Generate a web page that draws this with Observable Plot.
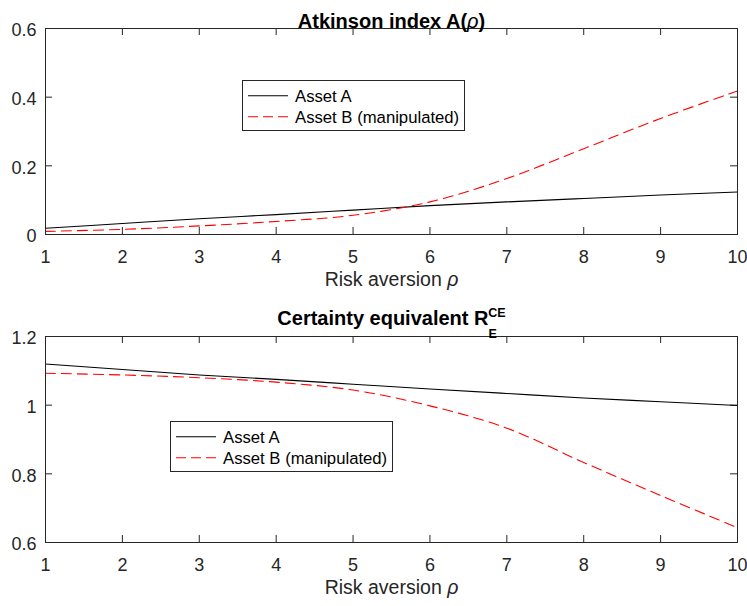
<!DOCTYPE html>
<html>
<head>
<meta charset="utf-8">
<script src="https://cdn.jsdelivr.net/npm/d3@7"></script>
<script src="https://cdn.jsdelivr.net/npm/@observablehq/plot@0.6"></script>
<style>
  html, body { margin: 0; padding: 0; background: white; }
  #wrap { position: relative; width: 747px; height: 606px; background: white; }
  #wrap svg { display: block; }
</style>
</head>
<body>
<div id="wrap"></div>
<script>
// ---- data ----
const rho = [1, 2, 3, 4, 5, 6, 7, 8, 9, 10];
const atkinsonA = [0.018, 0.032, 0.046, 0.058, 0.071, 0.084, 0.095, 0.105, 0.115, 0.124];
const atkinsonB = [0.009, 0.015, 0.025, 0.038, 0.056, 0.095, 0.163, 0.250, 0.338, 0.418];
const certEqA = [1.120, 1.104, 1.088, 1.075, 1.061, 1.047, 1.034, 1.021, 1.010, 0.999];
const certEqB = [1.093, 1.088, 1.080, 1.067, 1.044, 0.998, 0.933, 0.833, 0.737, 0.643];
const seriesNames = ["Asset A", "Asset B (manipulated)"];
const xTicks = [1, 2, 3, 4, 5, 6, 7, 8, 9, 10];
const topYTicks = [0, 0.2, 0.4, 0.6];
const bottomYTicks = [0.6, 0.8, 1, 1.2];
const xLabel = "Risk aversion ρ";
const topTitle = "Atkinson index A(ρ)";
const bottomTitle = "Certainty equivalent R";

const FONT = "'Liberation Sans', Arial, Helvetica, sans-serif";
const AX = "#262626";
const W = 747, ML = 45, MR = 10;

function panel({height, marginTop, marginBottom, yDomain, yTicks, a, b, title, titleDy}) {
  const frameH = height - marginTop - marginBottom;
  const frameW = W - ML - MR;
  const data = rho.map((r, i) => ({rho: r, a: a[i], b: b[i]}));
  return Plot.plot({
    width: W, height, marginTop, marginBottom, marginLeft: ML, marginRight: MR,
    style: {fontFamily: FONT, fontSize: "18px", color: AX, background: "white", overflow: "visible"},
    x: {domain: [1, 10]},
    y: {domain: yDomain},
    marks: [
      Plot.tickX(xTicks, {x: d => d, stroke: AX, insetTop: frameH - 7}),
      Plot.tickX(xTicks, {x: d => d, stroke: AX, insetBottom: frameH - 7}),
      Plot.tickY(yTicks, {y: d => d, stroke: AX, insetLeft: frameW - 7}),
      Plot.tickY(yTicks, {y: d => d, stroke: AX, insetRight: frameW - 7}),
      Plot.axisX({ticks: xTicks, tickSize: 0, tickPadding: 16, label: null, tickFormat: d => String(d), fontSize: 18}),
      Plot.axisY({ticks: yTicks, tickSize: 0, tickPadding: 9, label: null, tickFormat: d => String(d), dy: 2, fontSize: 18}),
      Plot.line(data, {x: "rho", y: "a", stroke: "black", strokeWidth: 1.1, curve: "catmull-rom"}),
      Plot.line(data, {x: "rho", y: "b", stroke: "#ff0000", strokeWidth: 1.1, strokeDasharray: "10,6", curve: "catmull-rom"}),
      Plot.frame({stroke: AX}),
      Plot.text([title], {text: d => d, frameAnchor: "top", dy: titleDy, fontWeight: "bold", fontSize: 20, fill: "black"}),
      Plot.text([xLabel], {text: d => d, frameAnchor: "bottom", dy: 51, fontSize: 19.5, fill: AX})
    ]
  });
}

function italicRho(textNode) {
  const t = d3.select(textNode);
  const s = t.text();
  const parts = s.split("ρ");
  t.text(null);
  parts.forEach((p, i) => {
    if (p) t.append("tspan").text(p);
    if (i < parts.length - 1) t.append("tspan").attr("font-style", "italic").attr("font-weight", "normal").text("ρ");
  });
}

const wrap = d3.select("#wrap");

const topPanel = panel({height: 290, marginTop: 28, marginBottom: 56, yDomain: [0, 0.6], yTicks: topYTicks,
  a: atkinsonA, b: atkinsonB, title: topTitle, titleDy: -14.5});
const bottomPanel = panel({height: 316, marginTop: 46, marginBottom: 64, yDomain: [0.6, 1.2], yTicks: bottomYTicks,
  a: certEqA, b: certEqB, title: bottomTitle, titleDy: -25.5});

wrap.node().appendChild(topPanel);
wrap.node().appendChild(bottomPanel);

// rich text: italic rho, sub/superscript
for (const svg of [topPanel, bottomPanel]) {
  d3.select(svg).selectAll("text")
    .filter(function() { return this.textContent === xLabel || this.textContent === topTitle; })
    .each(function() { italicRho(this); });
}
d3.select(bottomPanel).selectAll("text")
  .filter(function() { return this.textContent === bottomTitle; })
  .each(function() {
    const t = d3.select(this);
    t.append("tspan").attr("font-size", 12.5).attr("dy", 13).text("E");
    t.append("tspan").attr("font-size", 12.5).attr("dx", -8.5).attr("dy", -21.5).text("CE");
  });

// legends
function legend(left, topPx) {
  const div = wrap.append("div").style("position", "absolute").style("left", left + "px").style("top", topPx + "px");
  const svg = div.append("svg").attr("width", 223).attr("height", 51).style("font-family", FONT);
  svg.append("rect").attr("x", 0.5).attr("y", 0.5).attr("width", 222).attr("height", 50)
    .attr("fill", "white").attr("stroke", AX).attr("stroke-width", 1);
  const styles = [{stroke: "black", dash: null}, {stroke: "#ff0000", dash: "10,5"}];
  seriesNames.forEach((name, i) => {
    const cy = 15.7 + i * 21;
    svg.append("line").attr("x1", 6).attr("x2", 46).attr("y1", cy).attr("y2", cy)
      .attr("stroke", styles[i].stroke).attr("stroke-width", 1.1).attr("stroke-dasharray", styles[i].dash);
    svg.append("text").attr("x", 53).attr("y", cy + 5.8).attr("font-size", 16.7).attr("fill", "black").text(name);
  });
}
legend(242, 80);
legend(170, 421);
</script>
</body>
</html>
